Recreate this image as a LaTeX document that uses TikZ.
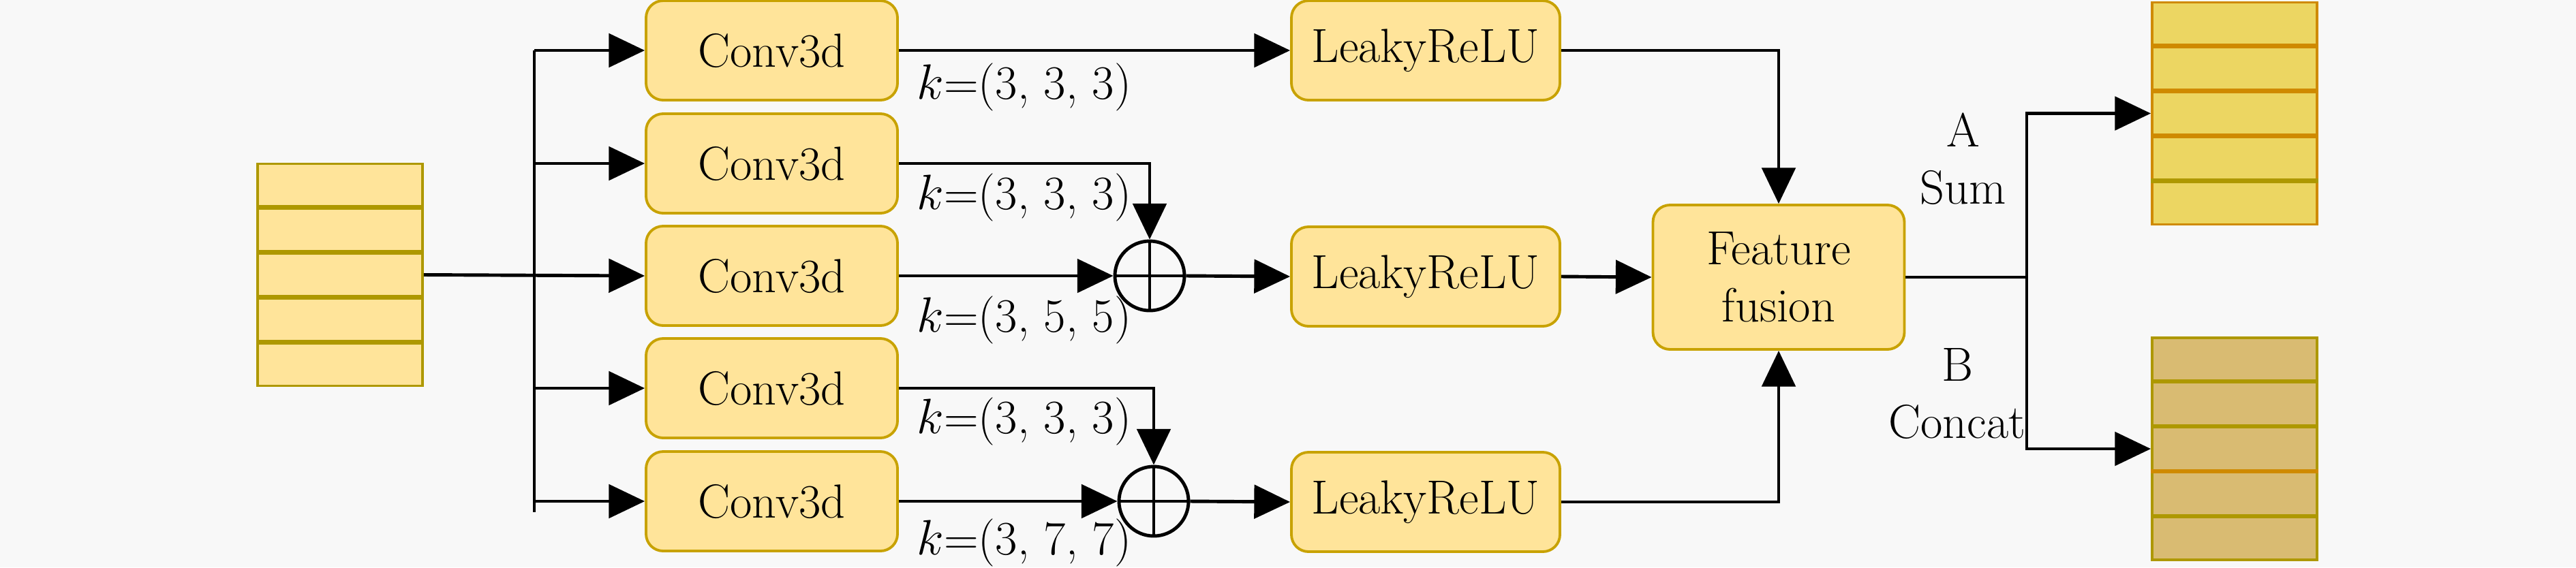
\documentclass[tikz,border=0pt]{standalone}
\usetikzlibrary{arrows.meta,positioning,calc}

\definecolor{bgcol}{HTML}{F8F8F8}
\definecolor{boxfill}{HTML}{FFE49A}
\definecolor{boxline}{HTML}{C8A200}
\definecolor{oliveline}{HTML}{AE9800}
\definecolor{orangeline}{HTML}{CF8A00}
\definecolor{sumfill}{HTML}{ECD662}
\definecolor{catfill}{HTML}{D9BB72}

\tikzset{
	block/.style={draw=boxline, fill=boxfill, line width=1.1pt, rounded corners=0.25cm,
		minimum width=3.69cm, minimum height=1.46cm, inner sep=0pt},
	stack/.style={draw=oliveline, line width=1.1pt, minimum width=2.42cm,
		minimum height=3.26cm, inner sep=0pt},
	adder/.style={draw, circle, line width=1.4pt, minimum size=1.02cm, inner sep=0pt},
	wire/.style={line width=1.4pt},
	flow/.style={line width=1.4pt, -{Triangle[length=15pt,width=14pt]}},
	klabel/.style={anchor=west, inner sep=0pt}
}

\begin{document}
\begin{tikzpicture}[font=\fontsize{20}{24}\selectfont]
	\fill[bgcol] (0,0) rectangle (37.8,-8.33);		% background
	\useasboundingbox (0,0) rectangle (37.8,-8.33);
	
	% input volume
	\node[stack, fill=boxfill] (in) at (4.99,-4.035) {};
	\foreach \i in {1,...,4}
		\draw[oliveline, line width=1.8pt] ($(in.north west)!\i/5!(in.south west)$) -- ($(in.north east)!\i/5!(in.south east)$);
	
	% convolutions
	\node[block] (c1) at (11.325,-0.74) {Conv3d};
	\node[block] (c2) at (11.325,-2.40) {Conv3d};
	\node[block] (c3) at (11.325,-4.05) {Conv3d};
	\node[block] (c4) at (11.325,-5.70) {Conv3d};
	\node[block] (c5) at (11.325,-7.36) {Conv3d};
	
	\node[klabel] (k1) at (13.45,-1.28) {$k$=(3, 3, 3)};
	\node[klabel] (k2) at (13.45,-2.90) {$k$=(3, 3, 3)};
	\node[klabel] (k3) at (13.45,-4.70) {$k$=(3, 5, 5)};
	\node[klabel] (k4) at (13.45,-6.19) {$k$=(3, 3, 3)};
	\node[klabel] (k5) at (13.45,-7.97) {$k$=(3, 7, 7)};
	
	% sums
	\node[adder] (s1) at (16.87,-4.05) {};
	\node[adder] (s2) at (16.93,-7.36) {};
	\draw[line width=1.4pt] (s1.north) -- (s1.south) (s1.west) -- (s1.east);
	\draw[line width=1.4pt] (s2.north) -- (s2.south) (s2.west) -- (s2.east);
	
	% activations
	\node[block, minimum width=3.94cm] (r1) at (20.92,-0.74) {LeakyReLU};
	\node[block, minimum width=3.94cm] (r2) at (20.92,-4.06) {LeakyReLU};
	\node[block, minimum width=3.94cm] (r3) at (20.92,-7.37) {LeakyReLU};
	
	\node[block, minimum height=2.12cm, align=center] (ff) at (26.10,-4.07) {Feature\\fusion};
	
	% output volumes
	\node[stack, fill=sumfill, draw=orangeline] (o1) at (32.79,-1.665) {};
	\foreach \i/\c in {1/orangeline,2/orangeline,3/orangeline,4/oliveline}
		\draw[\c, line width=1.8pt] ($(o1.north west)!\i/5!(o1.south west)$) -- ($(o1.north east)!\i/5!(o1.south east)$);
	\node[stack, fill=catfill] (o2) at (32.79,-6.59) {};
	\foreach \i/\c in {1/oliveline,2/oliveline,3/orangeline,4/oliveline}
		\draw[\c, line width=1.8pt] ($(o2.north west)!\i/5!(o2.south west)$) -- ($(o2.north east)!\i/5!(o2.south east)$);
	
	\node[align=center] (la) at (28.81,-2.33) {A\\Sum};
	\node[align=center] (lb) at (28.72,-5.78) {B\\Concat};
	
	% branches
	\coordinate (trunk) at (7.84,-7.52);
	\draw[wire] (trunk |- c1.west) -- (trunk);
	\draw[flow] (trunk |- c1.west) -- (c1.west);
	\draw[flow] (trunk |- c2.west) -- (c2.west);
	\draw[flow] (in.east) -- (c3.west);
	\draw[flow] (trunk |- c4.west) -- (c4.west);
	\draw[flow] (trunk |- c5.west) -- (c5.west);
	
	\draw[flow] (c1.east) -- (r1.west);
	\draw[flow] (c2.east) -| (s1.north);
	\draw[flow] (c3.east) -- (s1.west);
	\draw[flow] (c4.east) -| (s2.north);
	\draw[flow] (c5.east) -- (s2.west);
	\draw[flow] (s1.east) -- (r2.west);
	\draw[flow] (s2.east) -- (r3.west);
	
	\draw[flow] (r1.east) -| (ff.north);
	\draw[flow] (r2.east) -- (ff.west);
	\draw[flow] (r3.east) -| (ff.south);
	
	\coordinate (split) at (29.74,-4.07);
	\draw[wire] (ff.east) -- (split);
	\draw[flow] (split) |- (o1.west);
	\draw[flow] (split) |- (o2.west);
\end{tikzpicture}
\end{document}
